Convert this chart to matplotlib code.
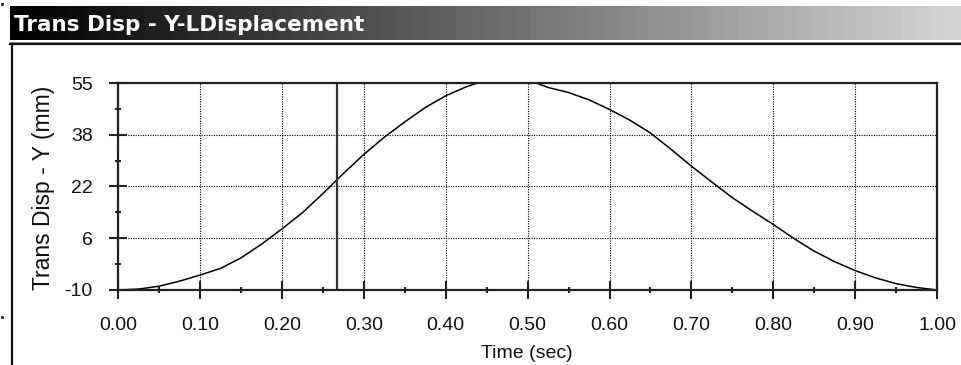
import matplotlib
matplotlib.use("Agg")
import matplotlib.pyplot as plt
from matplotlib.lines import Line2D
import numpy as np

# curve, every 0.025 s
time_s = [0.000, 0.025, 0.050, 0.075, 0.100, 0.125, 0.150, 0.175, 0.200, 0.225,
          0.250, 0.275, 0.300, 0.325, 0.350, 0.375, 0.400, 0.425, 0.450, 0.475,
          0.500, 0.525, 0.550, 0.575, 0.600, 0.625, 0.650, 0.675, 0.700, 0.725,
          0.750, 0.775, 0.800, 0.825, 0.850, 0.875, 0.900, 0.925, 0.950, 0.975,
          1.000]
disp_mm = [-10.0, -9.7, -8.8, -7.2, -5.3, -3.2, 0.1, 4.4, 9.2, 14.3,
           20.3, 26.6, 32.6, 38.0, 42.8, 47.3, 51.0, 53.8, 56.0, 56.8,
           56.0, 53.6, 52.0, 49.7, 46.7, 43.3, 39.3, 34.2, 28.9, 23.9,
           19.0, 14.7, 10.6, 6.2, 2.2, -1.1, -3.9, -6.2, -8.0, -9.2,
           -10.0]

cursor_t = 0.267

x_ticks = [0.0, 0.1, 0.2, 0.3, 0.4, 0.5, 0.6, 0.7, 0.8, 0.9, 1.0]
x_labels = ["0.00", "0.10", "0.20", "0.30", "0.40", "0.50",
            "0.60", "0.70", "0.80", "0.90", "1.00"]
y_ticks = [-10.0, 6.25, 22.5, 38.75, 55.0]
y_labels = ["-10", "6", "22", "38", "55"]

title = "Trans Disp - Y-LDisplacement"
x_title = "Time (sec)"
y_title = "Trans Disp - Y (mm)"

W, H = 961, 365
fig = plt.figure(figsize=(W / 100, H / 100), dpi=100)
fig.patch.set_facecolor("white")


def fx(px):
    return px / W


def fy(py):
    return 1 - py / H


# gradient title bar
bar = fig.add_axes([fx(10), fy(40), fx(951), 34 / H])
grad = np.linspace(0.0, 0.83, 64).reshape(1, -1)
bar.imshow(grad, cmap="gray", vmin=0, vmax=1, aspect="auto",
           extent=[0, 1, 0, 1], interpolation="nearest")
bar.set_axis_off()
bar.text(0.004, 0.45, title, color="white", fontsize=15.5, fontweight="bold",
         family="DejaVu Sans", ha="left", va="center", transform=bar.transAxes)

# panel border lines
fig.add_artist(Line2D([fx(10), 1], [fy(41.5), fy(41.5)], color="#9a9a9a", lw=0.8))
fig.add_artist(Line2D([fx(10), 1], [fy(43.5), fy(43.5)], color="#111111", lw=1.6))
fig.add_artist(Line2D([fx(11.5), fx(11.5)], [fy(43.5), 0], color="#111111", lw=1.6))
fig.add_artist(Line2D([fx(1.7)], [fy(4)], marker="s", ms=1.2, color="#333333", lw=0))
fig.add_artist(Line2D([fx(1.7)], [fy(317)], marker="s", ms=1.2, color="#333333", lw=0))

# plot area
ax = fig.add_axes([fx(118.3), fy(290), fx(937 - 118.3), (290 - 83) / H])
ax.plot(time_s, disp_mm, color="black", lw=1.1)
ax.axvline(cursor_t, color="#333333", lw=1.6)

ax.set_xlim(0, 1)
ax.set_ylim(-10, 55)
ax.set_xticks(x_ticks)
ax.set_xticklabels(x_labels)
ax.set_yticks(y_ticks)
ax.set_yticklabels(y_labels)
ax.set_xticks(np.arange(0.05, 1.0, 0.1), minor=True)
ax.set_yticks([-1.875, 14.375, 30.625, 46.875], minor=True)

ax.grid(True, which="major", color="black", linestyle=(0, (1, 1.2)), lw=0.8)
for s in ax.spines.values():
    s.set_color("#222222")
    s.set_linewidth(1.6)

lab_font = dict(family="Liberation Sans", size=14)
ax.tick_params(which="major", direction="inout", length=13, width=1.5,
               color="#222222", labelsize=14)
ax.tick_params(which="minor", direction="inout", length=5, width=1.5,
               color="#222222")
ax.tick_params(axis="x", which="major", pad=13)
ax.tick_params(axis="y", which="major", pad=12)
for lab in ax.get_xticklabels() + ax.get_yticklabels():
    lab.set_family("Liberation Sans")
    lab.set_color("#111111")

fig.text(fx(527), fy(354), x_title, ha="center", va="center",
         color="#111111", **lab_font)
fig.text(fx(44), fy(187.5), y_title, ha="center", va="center", rotation=90,
         color="#111111", family="Liberation Sans", size=16.5)

fig.savefig("out.png", dpi=100)
